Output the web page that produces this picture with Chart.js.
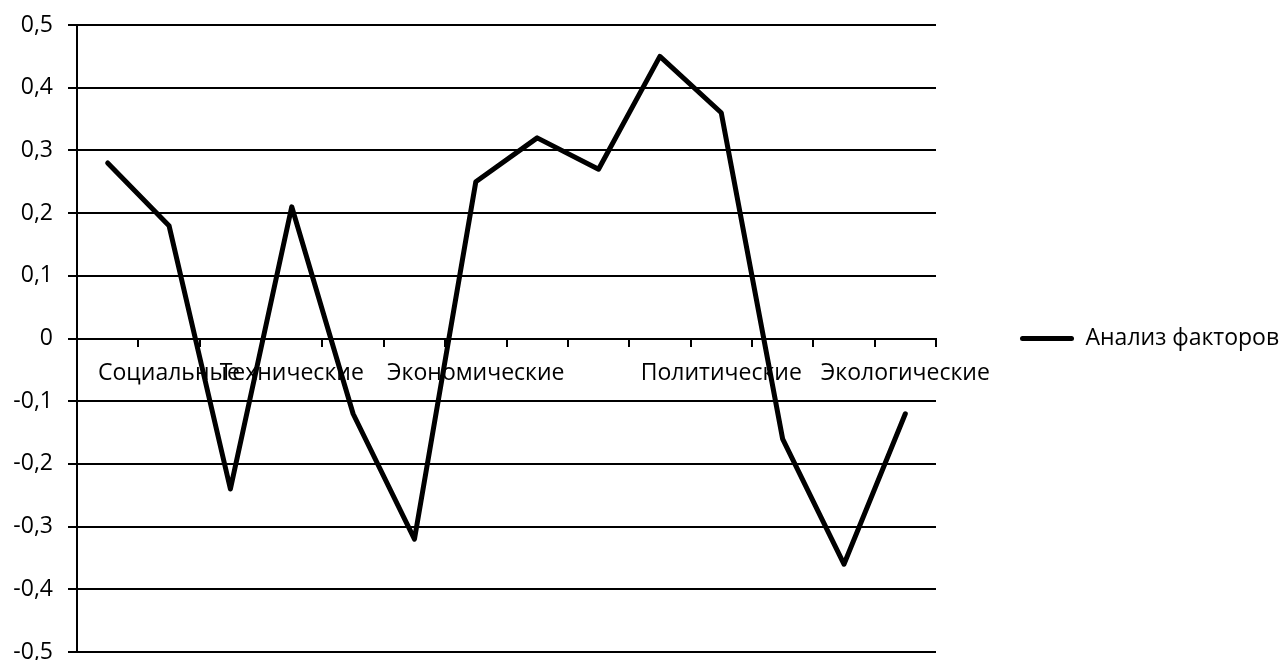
<!DOCTYPE html>
<html>
<head>
<meta charset="utf-8">
<script src="https://cdn.jsdelivr.net/npm/chart.js@4.4.1/dist/chart.umd.min.js"></script>
<style>
  html, body { margin: 0; padding: 0; background: #fff; overflow: hidden; }
  #wrap { width: 1281px; height: 660px; }
</style>
</head>
<body>
<div id="wrap"><canvas id="chart" width="1281" height="660"></canvas></div>
<script>
// Category labels along the horizontal axis (blank slots carry no caption)
const categories = ['', 'Социальные', '', 'Технические', '', '', 'Экономические', '', '', '', 'Политические', '', '', 'Экологические'];
// Series
const seriesName = 'Анализ факторов';
const values = [0.28, 0.18, -0.24, 0.21, -0.12, -0.32, 0.25, 0.32, 0.27, 0.45, 0.36, -0.16, -0.36, -0.12];
// Value axis ticks
const yTicks = [-0.5, -0.4, -0.3, -0.2, -0.1, 0, 0.1, 0.2, 0.3, 0.4, 0.5];

const FONT = "'Open Sans', 'Noto Sans', sans-serif";
const FONT_SIZE = 23;

Chart.defaults.font.family = FONT;
Chart.defaults.font.size = FONT_SIZE;
Chart.defaults.color = '#000';

const fmt = v => (v === 0 ? '0' : v.toFixed(1).replace('.', ','));

new Chart(document.getElementById('chart'), {
  type: 'line',
  data: {
    labels: categories,
    datasets: [{
      label: seriesName,
      data: values,
      borderColor: '#000',
      backgroundColor: '#000',
      borderWidth: 5,
      borderJoinStyle: 'round',
      borderCapStyle: 'round',
      pointRadius: 0,
      pointHoverRadius: 0,
      tension: 0,
      fill: false
    }]
  },
  options: {
    responsive: false,
    animation: false,
    devicePixelRatio: 1,
    layout: { padding: { left: 0, right: 0, top: 25, bottom: 8 } },
    plugins: {
      tooltip: { enabled: false },
      legend: {
        position: 'right',
        maxWidth: 345,
        labels: {
          boxWidth: 54,
          boxHeight: 5,
          padding: 84,
          color: '#000',
          font: { family: FONT, size: FONT_SIZE },
          useBorderRadius: true,
          borderRadius: 2.5,
          generateLabels: chart =>
            Chart.defaults.plugins.legend.labels.generateLabels(chart)
              .map(item => Object.assign(item, { fillStyle: '#000', lineWidth: 0 }))
        }
      }
    },
    scales: {
      x: {
        type: 'category',
        position: { y: 0 },
        offset: true,
        grid: {
          offset: true,
          drawOnChartArea: false,
          drawTicks: true,
          tickLength: 7,
          color: '#000',
          lineWidth: 2
        },
        border: { display: true, color: '#000', width: 2 },
        ticks: {
          autoSkip: false,
          maxRotation: 0,
          minRotation: 0,
          padding: 14,
          color: '#000',
          font: { family: FONT, size: FONT_SIZE }
        },
        afterFit: s => { s.paddingLeft = 0; s.paddingRight = 0; }
      },
      y: {
        min: -0.5,
        max: 0.5,
        afterBuildTicks: s => { s.ticks = yTicks.map(v => ({ value: v })); },
        grid: { color: '#000', lineWidth: 2, tickLength: 9, drawTicks: true },
        border: { display: true, color: '#000', width: 2 },
        ticks: {
          padding: 15,
          color: '#000',
          font: { family: FONT, size: FONT_SIZE },
          callback: v => fmt(v)
        },
        afterFit: s => { s.width = 77; s.paddingTop = 0; s.paddingBottom = 0; }
      }
    }
  }
});
</script>
</body>
</html>
